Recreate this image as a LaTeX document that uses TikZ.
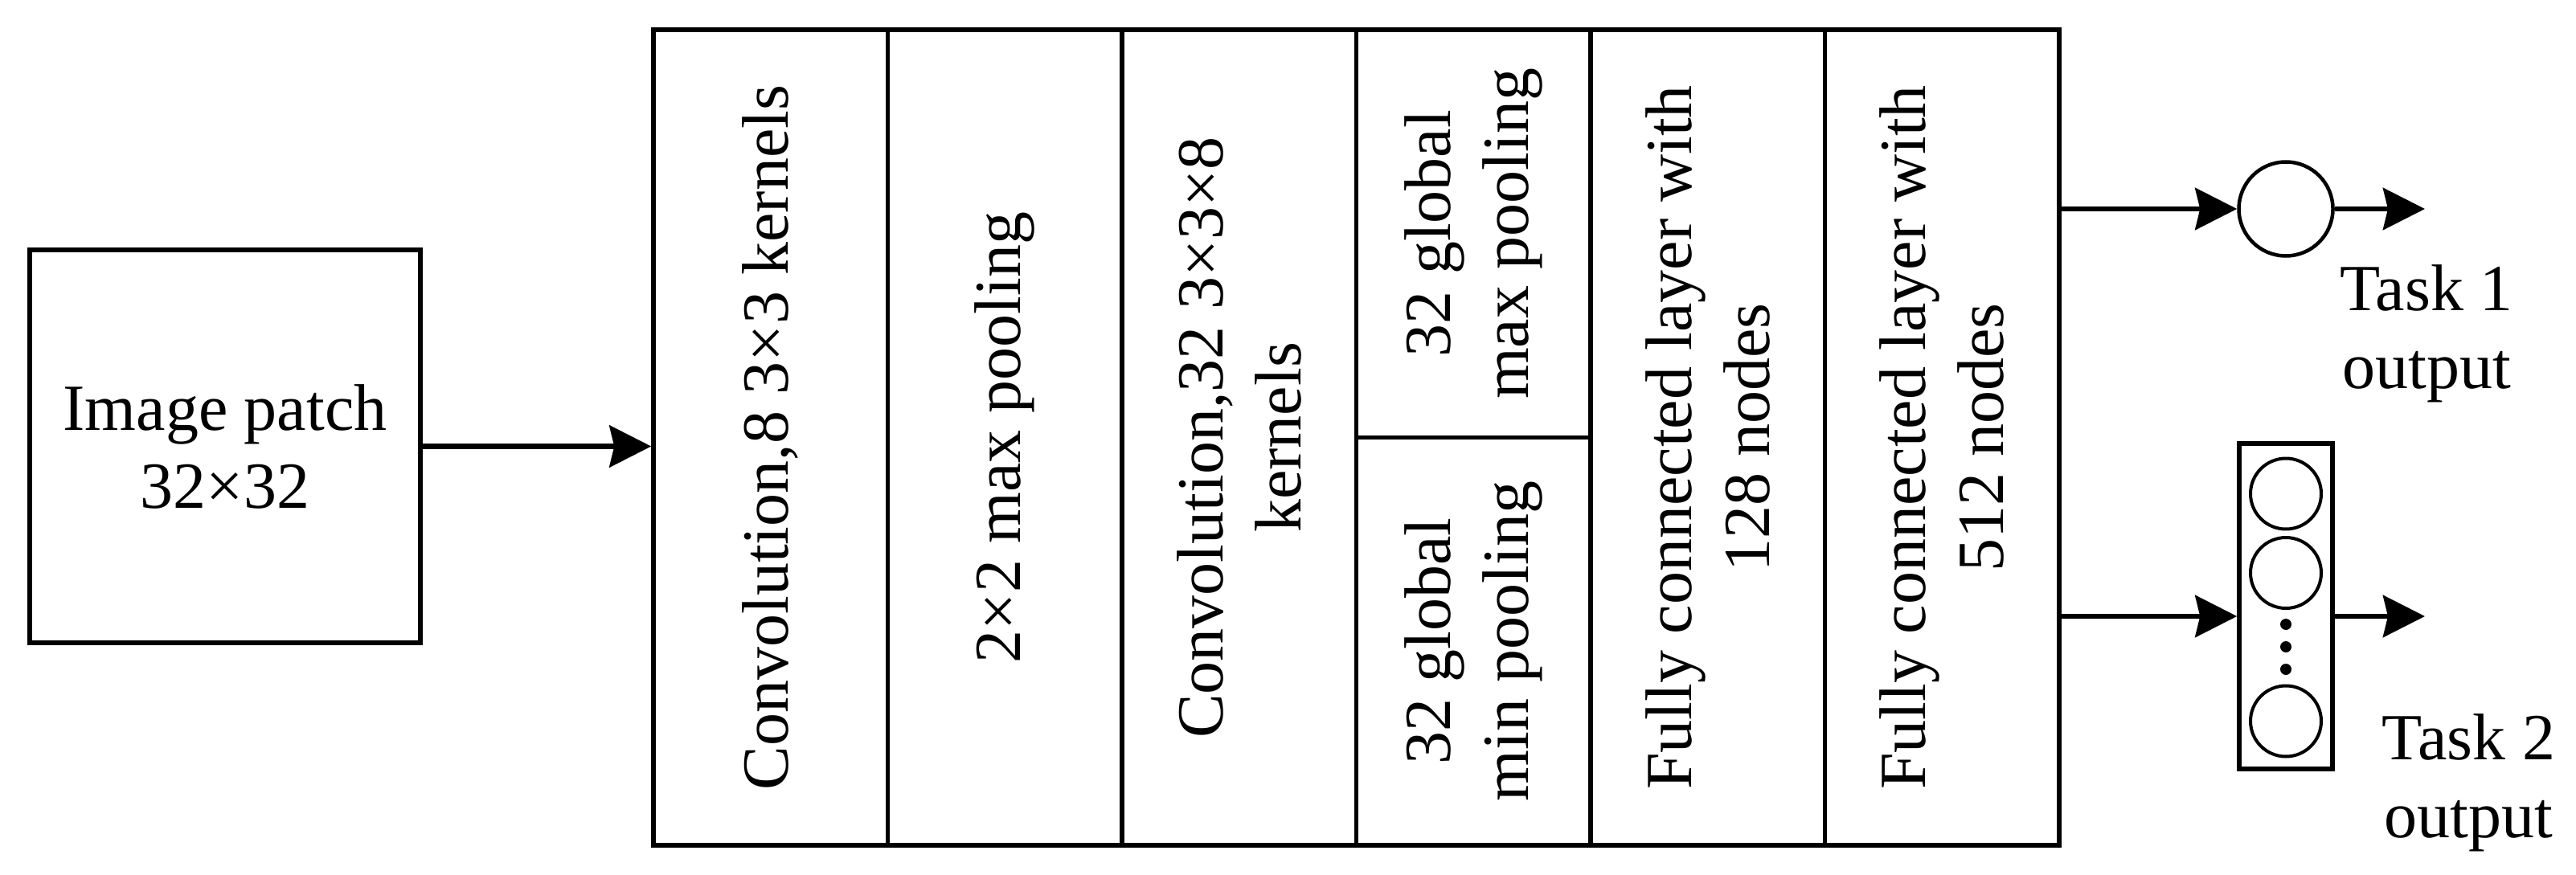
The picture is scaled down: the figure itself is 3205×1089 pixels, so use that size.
\documentclass[tikz,border=0pt]{standalone}
\usepackage{fontspec}
\setmainfont{Liberation Serif}
\usetikzlibrary{arrows.meta}
\begin{document}
\begin{tikzpicture}[x=1pt,y=-1pt,
  txt/.style={font=\fontsize{82}{97}\selectfont, align=center},
  box/.style={txt, draw, line width=5.5pt, inner sep=0pt},
  col/.style={box, rotate=90, minimum width=1015pt, minimum height=291.5pt},
  halfcol/.style={box, rotate=90, minimum width=507.5pt, minimum height=291.5pt},
  arr/.style={line width=6.5pt, -{Stealth[length=52pt,width=52pt,inset=6pt]}},
  lbl/.style={txt, inner sep=0pt},
  neuron/.style={circle, draw, line width=4pt, inner sep=0pt}]
\useasboundingbox (0,0) rectangle (3205,1089);
% input
\node[box, minimum width=486pt, minimum height=489pt] (img) at (280,555.5) {Image patch\\32×32};
% layers
\node[col] (c1) at (958.75,544.5) {Convolution,8 3×3 kernels};
\node[col] (c2) at (1250.25,544.5) {2×2 max pooling};
\node[col] (c3) at (1541.75,544.5) {Convolution,32 3×3×8\\kernels};
\node[halfcol] (pmax) at (1833.25,290.75) {32 global\\max pooling};
\node[halfcol] (pmin) at (1833.25,798.25) {32 global\\min pooling};
\node[col] (fc1) at (2124.75,544.5) {Fully connected layer with\\128 nodes};
\node[col] (fc2) at (2416.25,544.5) {Fully connected layer with\\512 nodes};
% outputs
\node[neuron, minimum size=117pt, line width=4.5pt] (o1) at (2844,260) {};
\node[draw, line width=5.5pt, inner sep=0pt, minimum width=116pt, minimum height=405pt] (ob) at (2844,754.5) {};
\node[neuron, minimum size=88pt] (n1) at (2844,614.5) {};
\node[neuron, minimum size=88pt] (n2) at (2844,713) {};
\node[neuron, minimum size=88pt] (n3) at (2844,897.5) {};
\fill (2844,777) circle (7);
\fill (2844,805) circle (7);
\fill (2844,833) circle (7);
\coordinate (t1end) at (3017,260);
\coordinate (t2y) at (2700,767);
\coordinate (t2end) at (3017,767);
\node[lbl] (l1) at (3019,415.5) {Task 1\\output};
\node[lbl] (l2) at (3071.5,974.5) {Task 2\\output};
% connectors
\draw[arr] (img.east) -- (img.east -| c1.north);
\draw[arr] (o1.west -| fc2.south) -- (o1.west);
\draw[arr] (o1.east) -- (t1end);
\draw[arr] (t2y -| fc2.south) -- (t2y -| ob.west);
\draw[arr] (t2y -| ob.east) -- (t2end);
\end{tikzpicture}
\end{document}
